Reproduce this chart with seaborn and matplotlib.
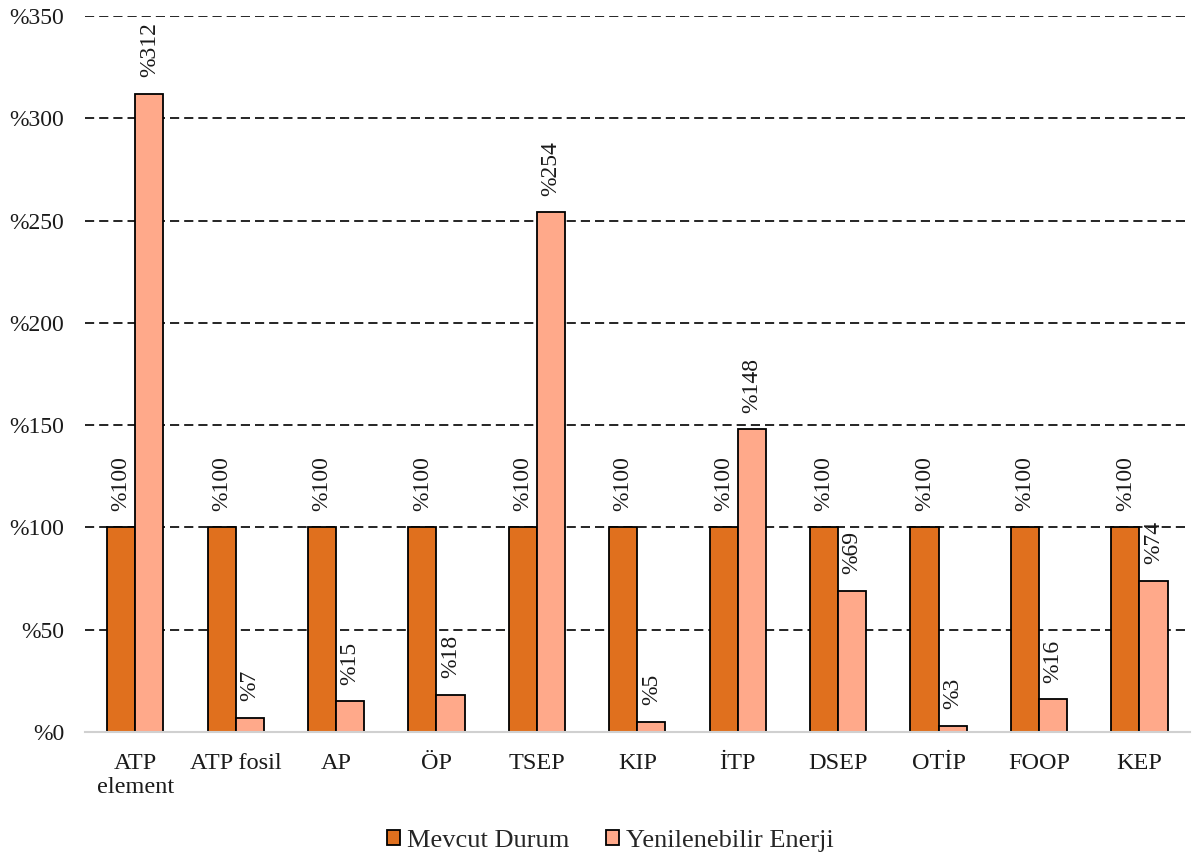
import pandas as pd
import matplotlib.pyplot as plt
import seaborn as sns
from matplotlib.ticker import FuncFormatter

# Veriler
kategoriler = ['ATP\nelement', 'ATP fosil', 'AP', 'ÖP', 'TSEP', 'KIP', 'İTP',
               'DSEP', 'OTİP', 'FOOP', 'KEP']
mevcut_durum = [100, 100, 100, 100, 100, 100, 100, 100, 100, 100, 100]
yenilenebilir = [312, 7, 15, 18, 254, 5, 148, 69, 3, 16, 74]
seriler = ['Mevcut Durum', 'Yenilenebilir Enerji']
renkler = ['#E0701E', '#FFA98A']

df = pd.DataFrame({
    'kategori': kategoriler * 2,
    'seri': [seriler[0]] * len(kategoriler) + [seriler[1]] * len(kategoriler),
    'deger': mevcut_durum + yenilenebilir,
})

sns.set_theme(style="white")
plt.rcParams['font.family'] = ['Liberation Serif', 'DejaVu Serif']

fig, ax = plt.subplots(figsize=(11.92, 8.57), dpi=100)
fig.subplots_adjust(left=0.0713, right=0.998, top=0.9813, bottom=0.1459)

sns.barplot(data=df, x='kategori', y='deger', hue='seri', palette=renkler,
            width=0.56, edgecolor='black', linewidth=1.3, ax=ax, saturation=1)

for cont in ax.containers:
    ax.bar_label(cont, labels=[f'%{v:.0f}' for v in cont.datavalues],
                 rotation=90, padding=12, fontsize=17, color='#1a1a1a')

ax.set_ylim(0, 350)
ax.set_yticks(range(0, 351, 50))
ax.yaxis.set_major_formatter(FuncFormatter(lambda v, p: f'%{v:.0f}'))
ax.set_xlim(-0.5, len(kategoriler) - 0.5)
ax.set_xlabel('')
ax.set_ylabel('')
ax.tick_params(axis='both', labelsize=17, colors='#1a1a1a', length=0)
ax.tick_params(axis='y', pad=15)
ax.tick_params(axis='x', pad=15, labelsize=17.5)

ax.yaxis.grid(True, linestyle=(0, (5.5, 3)), color='black', linewidth=1.2)
ax.set_axisbelow(True)
for s in ['top', 'right', 'left']:
    ax.spines[s].set_visible(False)
ax.spines['bottom'].set_color('#D0D0D0')
ax.spines['bottom'].set_linewidth(1.5)

ax.get_legend().remove()
handles, etiketler = ax.get_legend_handles_labels()
fig.legend(handles, etiketler, loc='center', bbox_to_anchor=(0.512, 0.019),
           ncol=2, frameon=False, fontsize=19, handlelength=0.5,
           handleheight=0.5, handletextpad=0.25, columnspacing=1.4)

plt.savefig('out.png', dpi=100)
plt.close()
